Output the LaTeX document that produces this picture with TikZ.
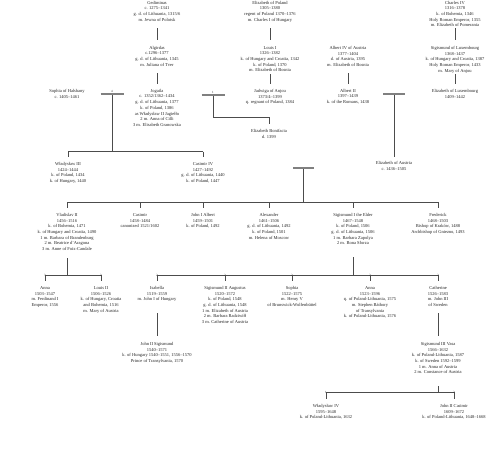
\documentclass[tikz,border=0pt]{standalone}
\usepackage{fontspec}
\setmainfont{Liberation Serif}
\usepackage{tikz}
\usetikzlibrary{positioning}

\tikzset{
  person/.style={align=center, anchor=north, inner sep=0pt,
    font=\fontsize{6.4}{8.1}\selectfont, text=black!85},
  num/.style={anchor=south, inner sep=0pt, font=\fontsize{4.6}{5}\selectfont, text=black!80},
  conn/.style={draw=black!70, line width=1.1pt},
  link/.style={conn, shorten >=0.28cm},
  bar/.style={draw=black!50, line width=3.2pt}
}

\begin{document}
\begin{tikzpicture}[x=0.05cm, y=-0.05cm]
  \useasboundingbox (0,0) rectangle (500,449);

  % Top generation
  \node[person] (gedim) at (157,0.9) {Gediminas\\c. 1275--1341\\g. d. of Lithuania, 1315/6\\m. Jewna of Polotsk};
  \node[person] (eliPol) at (270,0.9) {Elizabeth of Poland\\1305--1380\\regent of Poland 1370--1376\\m. Charles I of Hungary};
  \node[person] (charl4) at (455,0.9) {Charles IV\\1316--1378\\k. of Bohemia, 1346\\Holy Roman Emperor, 1355\\m. Elizabeth of Pomerania};

  \node[person] (algir) at (157,46) {Algirdas\\c.1296--1377\\g. d. of Lithuania, 1345\\m. Juliana of Tver};
  \node[person] (louis1) at (270,46) {Louis I\\1326--1382\\k. of Hungary and Croatia, 1342\\k. of Poland, 1370\\m. Elizabeth of Bosnia};
  \node[person] (alb4) at (348,46) {Albert IV of Austria\\1377--1404\\d. of Austria, 1395\\m. Elizabeth of Bosnia};
  \node[person] (sigLux) at (455,46) {Sigismund of Luxembourg\\1368--1437\\k. of Hungary and Croatia, 1387\\Holy Roman Emperor, 1433\\m. Mary of Anjou};

  \node[person] (sophia) at (67,89) {Sophia of Halshany\\c. 1405--1461};
  \node[person] (jogai) at (157,89) {Jogaila\\c. 1352/1362--1434\\g. d. of Lithuania, 1377\\k. of Poland, 1386\\as Władysław II Jagiełło\\2 m. Anna of Cilli\\3 m. Elisabeth Granowska};
  \node[person] (jadwig) at (270,89) {Jadwiga of Anjou\\1373/4--1399\\q. regnant of Poland, 1384};
  \node[person] (alb2) at (348,89) {Albert II\\1397--1439\\k. of the Romans, 1438};
  \node[person] (eliLux) at (455,89) {Elizabeth of Luxembourg\\1409--1442};

  \draw[link, shorten <=0.34cm] (gedim) -- (algir);
  \draw[link, shorten <=0.3cm] (eliPol) -- (louis1);
  \draw[link, shorten <=0.06cm] (charl4) -- (sigLux);
  \draw[link, shorten <=0.34cm, shorten >=0.25cm] (algir) -- (jogai);
  \draw[link, shorten <=0.1cm, shorten >=0.25cm] (louis1) -- (jadwig);
  \draw[link, shorten <=0.34cm, shorten >=0.25cm] (alb4) -- (alb2);
  \draw[link, shorten <=0.06cm, shorten >=0.25cm] (sigLux) -- (eliLux);

  % Jogaila's marriages
  \coordinate (m4) at (112,94);
  \coordinate (j4) at (112,151.7);
  \coordinate (m1) at (213,95);
  \coordinate (j1) at (213,117);
  \node[person] (eliBon) at (269,129.2) {Elizabeth Bonifacia\\d. 1399};
  \node[person] (wlad3) at (68,162.2) {Władysław III\\1424--1444\\k. of Poland, 1434\\k. of Hungary, 1440};
  \node[person] (cas4) at (203,162.2) {Casimir IV\\1427--1492\\g. d. of Lithuania, 1440\\k. of Poland, 1447};

  \draw[conn] (m4) -- (j4);
  \draw[conn] (wlad3.north |- j4) -- (cas4.north |- j4);
  \foreach \n in {wlad3,cas4}
    \draw[link] (\n.north |- j4) -- (\n.north);
  \draw[bar] (m4) ++(-11.5,0) -- ++(23,0);
  \node[num] (n4) at (112,92.2) {4};

  \draw[link] (m1) -- (j1) -| (eliBon.north);
  \draw[bar] (m1) ++(-11.5,0) -- ++(23,0);
  \node[num] (n1) at (213,93.2) {1};

  % Albert II and Elizabeth of Luxembourg
  \coordinate (m2) at (394,94);
  \node[person] (eliAus) at (394,161.5) {Elizabeth of Austria\\c. 1436--1505};
  \draw[conn, shorten >=0.22cm] (m2) -- (eliAus.north);
  \draw[bar] (m2) ++(-11,0) -- ++(22,0);

  % Children of Casimir IV
  \coordinate (m3) at (303.5,168);
  \coordinate (kids) at (303.5,202);
  \node[person] (vlad2) at (67,213.2) {Vladislav II\\1456--1516\\k. of Bohemia, 1471\\k. of Hungary and Croatia, 1490\\1 m. Barbara of Brandenburg\\2 m. Beatrice d'Aragona\\3 m. Anne of Foix-Candale};
  \node[person] (casim) at (140,213.2) {Casimir\\1458--1484\\canonized 1521/1602};
  \node[person] (johnAlb) at (203,213.2) {John I Albert\\1459--1501\\k. of Poland, 1492};
  \node[person] (alex) at (269,213.2) {Alexander\\1461--1506\\g. d. of Lithuania, 1492\\k. of Poland, 1501\\m. Helena of Moscow};
  \node[person] (sig1) at (353,213.2) {Sigismund I the Elder\\1467--1548\\k. of Poland, 1506\\g. d. of Lithuania, 1506\\1 m. Barbara Zapolya\\2 m. Bona Sforza};
  \node[person] (fred) at (438,213.2) {Frederick\\1468--1503\\Bishop of Kraków, 1488\\Archbishop of Gniezno, 1493};

  \draw[conn] (m3) -- (kids);
  \draw[conn] (vlad2.north |- kids) -- (fred.north |- kids);
  \foreach \n in {vlad2,casim,johnAlb,alex,sig1,fred}
    \draw[link] (\n.north |- kids) -- (\n.north);
  \draw[bar] (m3) ++(-10.5,0) -- ++(21,0);

  % Grandchildren
  \coordinate (vj) at (67,275);
  \coordinate (sj) at (353,275);
  \node[person] (annaH) at (45,286.2) {Anna\\1503--1547\\m. Ferdinand I\\Emperor, 1556};
  \node[person] (louis2) at (101,286.2) {Louis II\\1506--1526\\k. of Hungary, Croatia\\and Bohemia, 1516\\m. Mary of Austria};
  \node[person] (isab) at (157,286.2) {Isabella\\1519--1559\\m. John I of Hungary};
  \node[person] (sig2) at (225,286.2) {Sigismund II Augustus\\1520--1572\\k. of Poland, 1548\\g. d. of Lithuania, 1548\\1 m. Elizabeth of Austria\\2 m. Barbara Radziwiłł\\3 m. Catherine of Austria};
  \node[person] (sophB) at (292,286.2) {Sophia\\1522--1575\\m. Henry V\\of Brunswick-Wolfenbüttel};
  \node[person] (annaJ) at (370,286.2) {Anna\\1523--1596\\q. of Poland-Lithuania, 1575\\m. Stephen Báthory\\of Transylvania\\k. of Poland-Lithuania, 1576};
  \node[person] (cath) at (438,286.2) {Catherine\\1526--1583\\m. John III\\of Sweden};

  \draw[conn, shorten <=0.375cm] (vlad2) -- (vj);
  \draw[conn] (annaH.north |- vj) -- (louis2.north |- vj);
  \foreach \n in {annaH,louis2}{
    \draw[link] (\n.north |- vj) -- (\n.north);
    \node[num] (l\n) at ([yshift=-0.06cm]\n.north |- vj) {3};
  }

  \draw[conn, shorten <=0.61cm] (sig1) -- (sj);
  \draw[conn] (isab.north |- sj) -- (cath.north |- sj);
  \foreach \n in {isab,sig2,sophB,annaJ,cath}{
    \draw[link] (\n.north |- sj) -- (\n.north);
    \node[num] (l\n) at ([yshift=-0.06cm]\n.north |- sj) {2};
  }

  % Great-grandchildren
  \node[person] (johnSig) at (157,342.2) {John II Sigismund\\1540--1571\\k. of Hungary 1540--1551, 1556--1570\\Prince of Transylvania, 1570};
  \node[person] (sig3) at (438,342.2) {Sigismund III Vasa\\1566--1632\\k. of Poland-Lithuania, 1587\\k. of Sweden 1592--1599\\1 m. Anna of Austria\\2 m. Constance of Austria};
  \draw[link, shorten <=0.56cm, shorten >=0.31cm] (isab) -- (johnSig);
  \draw[link, shorten <=0.33cm, shorten >=0.31cm] (cath) -- (sig3);

  \coordinate (vj3) at (438,392);
  \node[person] (wlad4) at (326,404.2) {Władysław IV\\1595--1648\\k. of Poland-Lithuania, 1632};
  \node[person] (johnCas) at (454,404.2) {John II Casimir\\1609--1672\\k. of Poland-Lithuania, 1648--1668};
  \draw[conn, shorten <=0.61cm] (sig3) -- (vj3);
  \draw[conn] (wlad4.north |- vj3) -- (johnCas.north |- vj3);
  \foreach \n/\k in {wlad4/1,johnCas/2}{
    \draw[link] (\n.north |- vj3) -- (\n.north);
    \node[num] (l\n) at ([yshift=-0.06cm]\n.north |- vj3) {\k};
  }

\end{tikzpicture}
\end{document}
